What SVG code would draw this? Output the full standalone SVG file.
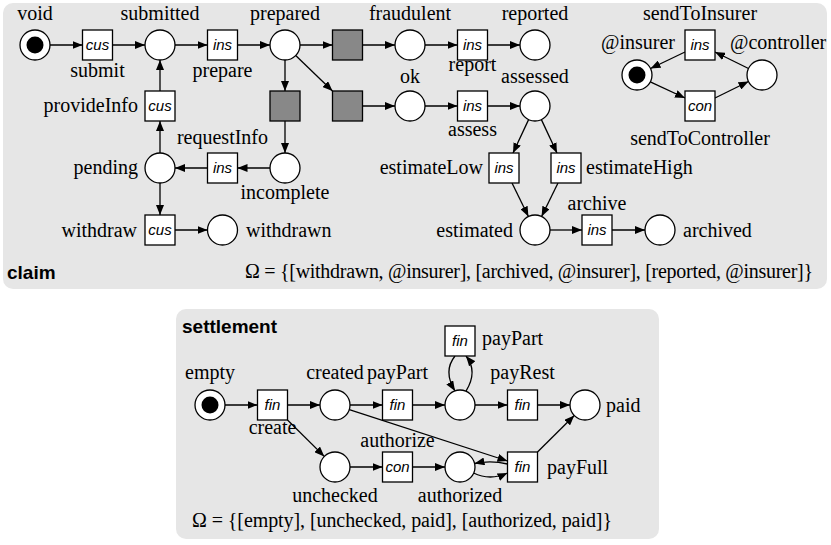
<svg xmlns="http://www.w3.org/2000/svg" width="831" height="545" viewBox="0 0 831 545">
<defs>
<marker id="a" viewBox="0 0 10 8" refX="10" refY="4" markerWidth="10" markerHeight="8" markerUnits="userSpaceOnUse" orient="auto"><path d="M0,0 L10,4 L0,8 z" fill="#000"/></marker>
</defs>
<style>
.panel{fill:#e6e6e6;stroke:none}
.pl{fill:#fff;stroke:#000;stroke-width:1.3}
.tr{fill:#fff;stroke:#000;stroke-width:1.3}
.sil{fill:#888;stroke:#000;stroke-width:1.3}
.tok{fill:#000}
.e{fill:none;stroke:#000;stroke-width:1.3;marker-end:url(#a)}
.lb{font-family:"Liberation Serif","Times New Roman",serif;font-size:20px;fill:#000}
.role{font-family:"Liberation Sans",Arial,sans-serif;font-style:italic;font-size:15px;fill:#000;text-anchor:middle}
.title{font-family:"Liberation Sans",Arial,sans-serif;font-weight:bold;font-size:19px;fill:#000}
.m{text-anchor:middle}
.r{text-anchor:end}
</style>
<rect class="panel" x="3" y="3" width="824" height="286" rx="10"/>
<rect class="panel" x="176" y="309" width="483" height="230" rx="10"/>
<text class="title" x="7" y="279">claim</text>
<text class="title" x="182" y="333">settlement</text>
<text class="lb" x="245" y="278" textLength="568" lengthAdjust="spacing">Ω = {[withdrawn, @insurer], [archived, @insurer], [reported, @insurer]}</text>
<text class="lb" x="192" y="527" textLength="420" lengthAdjust="spacing">Ω = {[empty], [unchecked, paid], [authorized, paid]}</text>

<g id="edges">
<line class="e" x1="50" y1="45" x2="82.5" y2="45"/>
<line class="e" x1="112.5" y1="45" x2="145" y2="45"/>
<line class="e" x1="175" y1="45" x2="207.5" y2="45"/>
<line class="e" x1="237.5" y1="45" x2="270" y2="45"/>
<line class="e" x1="300" y1="45" x2="332.5" y2="45"/>
<line class="e" x1="362.5" y1="45" x2="395" y2="45"/>
<line class="e" x1="425" y1="45" x2="457.5" y2="45"/>
<line class="e" x1="487.5" y1="45" x2="520" y2="45"/>
<line class="e" x1="285" y1="60" x2="285" y2="91"/>
<line class="e" x1="295.7" y1="55.5" x2="332.5" y2="91"/>
<line class="e" x1="362.5" y1="106" x2="395" y2="106"/>
<line class="e" x1="425" y1="106" x2="457.5" y2="106"/>
<line class="e" x1="487.5" y1="106" x2="520" y2="106"/>
<line class="e" x1="285" y1="121" x2="285" y2="153"/>
<line class="e" x1="270" y1="168" x2="237.5" y2="168"/>
<line class="e" x1="207.5" y1="168" x2="175" y2="168"/>
<line class="e" x1="160" y1="153" x2="160" y2="121"/>
<line class="e" x1="160" y1="91" x2="160" y2="60"/>
<line class="e" x1="160" y1="183" x2="160" y2="215"/>
<line class="e" x1="175" y1="230" x2="207.5" y2="230"/>
<line class="e" x1="528.6" y1="119.6" x2="513" y2="153"/>
<line class="e" x1="541.4" y1="119.6" x2="557" y2="153"/>
<line class="e" x1="512" y1="183" x2="528.4" y2="216.5"/>
<line class="e" x1="558" y1="183" x2="541.6" y2="216.5"/>
<line class="e" x1="550" y1="230" x2="582" y2="230"/>
<line class="e" x1="612" y1="230" x2="645" y2="230"/>
<line class="e" x1="685" y1="52" x2="650.5" y2="68.5"/>
<line class="e" x1="650.3" y1="81.9" x2="685" y2="98"/>
<line class="e" x1="715" y1="98" x2="748.5" y2="81.5"/>
<line class="e" x1="748.5" y1="68.5" x2="715" y2="52"/>

<line class="e" x1="225" y1="405" x2="257.5" y2="405"/>
<line class="e" x1="287.5" y1="405" x2="320" y2="405"/>
<line class="e" x1="350" y1="405" x2="382.5" y2="405"/>
<line class="e" x1="412.5" y1="405" x2="445" y2="405"/>
<line class="e" x1="475" y1="405" x2="507.5" y2="405"/>
<line class="e" x1="537.5" y1="405" x2="570" y2="405"/>
<path class="e" d="M455,356 C447,366 447,378 455,390.9"/>
<path class="e" d="M466,391.2 C474,378 474,366 466,356"/>
<line class="e" x1="287.5" y1="420" x2="324.3" y2="456.4"/>
<line class="e" x1="349.3" y1="409.6" x2="507.5" y2="461"/>
<line class="e" x1="350" y1="467" x2="382.5" y2="467"/>
<line class="e" x1="412.5" y1="467" x2="445" y2="467"/>
<path class="e" d="M507.5,464 Q491,460 474.5,463.5"/>
<path class="e" d="M473.5,473 Q490,481 507.5,473"/>
<line class="e" x1="537.5" y1="452" x2="574.3" y2="415.5"/>
</g>

<g id="void"><circle class="pl" cx="35" cy="45" r="15"/><circle class="tok" cx="35" cy="45" r="8.5"/><text class="lb m" x="35" y="20">void</text></g>
<g id="submit"><rect class="tr" x="82.5" y="30" width="30" height="30"/><text class="role" x="97.5" y="50">cus</text><text class="lb m" x="97.5" y="77">submit</text></g>
<g id="submitted"><circle class="pl" cx="160" cy="45" r="15"/><text class="lb m" x="160" y="20">submitted</text></g>
<g id="prepare"><rect class="tr" x="207.5" y="30" width="30" height="30"/><text class="role" x="222.5" y="50">ins</text><text class="lb m" x="222.5" y="77">prepare</text></g>
<g id="prepared"><circle class="pl" cx="285" cy="45" r="15"/><text class="lb m" x="285" y="20">prepared</text></g>
<g id="silent1"><rect class="sil" x="332.5" y="30" width="30" height="30"/></g>
<g id="fraudulent"><circle class="pl" cx="410" cy="45" r="15"/><text class="lb m" x="410" y="20">fraudulent</text></g>
<g id="report"><rect class="tr" x="457.5" y="30" width="30" height="30"/><text class="role" x="472.5" y="50">ins</text><text class="lb m" x="472.5" y="71">report</text></g>
<g id="reported"><circle class="pl" cx="535" cy="45" r="15"/><text class="lb m" x="535" y="20">reported</text></g>
<g id="silent2"><rect class="sil" x="270" y="91" width="30" height="30"/></g>
<g id="silent3"><rect class="sil" x="332.5" y="91" width="30" height="30"/></g>
<g id="ok"><circle class="pl" cx="410" cy="106" r="15"/><text class="lb m" x="410" y="83">ok</text></g>
<g id="assess"><rect class="tr" x="457.5" y="91" width="30" height="30"/><text class="role" x="472.5" y="111">ins</text><text class="lb m" x="472.5" y="136">assess</text></g>
<g id="assessed"><circle class="pl" cx="535" cy="106" r="15"/><text class="lb m" x="535" y="83">assessed</text></g>
<g id="provideInfo"><rect class="tr" x="145" y="91" width="30" height="30"/><text class="role" x="160" y="111">cus</text><text class="lb r" x="138" y="112">provideInfo</text></g>
<g id="pending"><circle class="pl" cx="160" cy="168" r="15"/><text class="lb r" x="138" y="174">pending</text></g>
<g id="requestInfo"><rect class="tr" x="207.5" y="153" width="30" height="30"/><text class="role" x="222.5" y="173">ins</text><text class="lb m" x="222.5" y="144">requestInfo</text></g>
<g id="incomplete"><circle class="pl" cx="285" cy="168" r="15"/><text class="lb m" x="285" y="199">incomplete</text></g>
<g id="withdraw"><rect class="tr" x="145" y="215" width="30" height="30"/><text class="role" x="160" y="235">cus</text><text class="lb r" x="137" y="237">withdraw</text></g>
<g id="withdrawn"><circle class="pl" cx="222.5" cy="230" r="15"/><text class="lb" x="246" y="237">withdrawn</text></g>
<g id="estimateLow"><rect class="tr" x="489" y="153" width="30" height="30"/><text class="role" x="504" y="173">ins</text><text class="lb r" x="483" y="174">estimateLow</text></g>
<g id="estimateHigh"><rect class="tr" x="551" y="153" width="30" height="30"/><text class="role" x="566" y="173">ins</text><text class="lb" x="586" y="174">estimateHigh</text></g>
<g id="estimated"><circle class="pl" cx="535" cy="230" r="15"/><text class="lb r" x="513" y="237">estimated</text></g>
<g id="archive"><rect class="tr" x="582" y="215" width="30" height="30"/><text class="role" x="597" y="235">ins</text><text class="lb m" x="597" y="210">archive</text></g>
<g id="archived"><circle class="pl" cx="660" cy="230" r="15"/><text class="lb" x="683" y="237">archived</text></g>
<g id="insurer"><circle class="pl" cx="637" cy="75" r="15"/><circle class="tok" cx="637" cy="75" r="8.5"/><text class="lb r" x="675" y="49">@insurer</text></g>
<g id="sendToInsurer"><rect class="tr" x="685" y="30" width="30" height="30"/><text class="role" x="700" y="50">ins</text><text class="lb m" x="700" y="20">sendToInsurer</text></g>
<g id="sendToController"><rect class="tr" x="685" y="91" width="30" height="30"/><text class="role" x="700" y="111">con</text><text class="lb m" x="700" y="145">sendToController</text></g>
<g id="controller"><circle class="pl" cx="762" cy="75" r="15"/><text class="lb" x="730" y="49">@controller</text></g>

<g id="empty"><circle class="pl" cx="210" cy="405" r="15"/><circle class="tok" cx="210" cy="405" r="8.5"/><text class="lb m" x="210" y="379">empty</text></g>
<g id="create"><rect class="tr" x="257.5" y="390" width="30" height="30"/><text class="role" x="272.5" y="410">fin</text><text class="lb m" x="272.5" y="434">create</text></g>
<g id="created"><circle class="pl" cx="335" cy="405" r="15"/><text class="lb m" x="335" y="379">created</text></g>
<g id="payPart1"><rect class="tr" x="382.5" y="390" width="30" height="30"/><text class="role" x="397.5" y="410">fin</text><text class="lb m" x="397.5" y="379">payPart</text></g>
<g id="partlyPaid"><circle class="pl" cx="460" cy="405" r="15"/></g>
<g id="payPart2"><rect class="tr" x="445" y="326" width="30" height="30"/><text class="role" x="460" y="346">fin</text><text class="lb" x="482" y="345">payPart</text></g>
<g id="payRest"><rect class="tr" x="507.5" y="390" width="30" height="30"/><text class="role" x="522.5" y="410">fin</text><text class="lb m" x="522.5" y="379">payRest</text></g>
<g id="paid"><circle class="pl" cx="585" cy="405" r="15"/><text class="lb" x="606" y="412">paid</text></g>
<g id="unchecked"><circle class="pl" cx="335" cy="467" r="15"/><text class="lb m" x="335" y="502">unchecked</text></g>
<g id="authorize"><rect class="tr" x="382.5" y="452" width="30" height="30"/><text class="role" x="397.5" y="472">con</text><text class="lb m" x="397.5" y="447">authorize</text></g>
<g id="authorized"><circle class="pl" cx="460" cy="467" r="15"/><text class="lb m" x="460" y="502">authorized</text></g>
<g id="payFull"><rect class="tr" x="507.5" y="452" width="30" height="30"/><text class="role" x="522.5" y="472">fin</text><text class="lb" x="547" y="474">payFull</text></g>
</svg>
